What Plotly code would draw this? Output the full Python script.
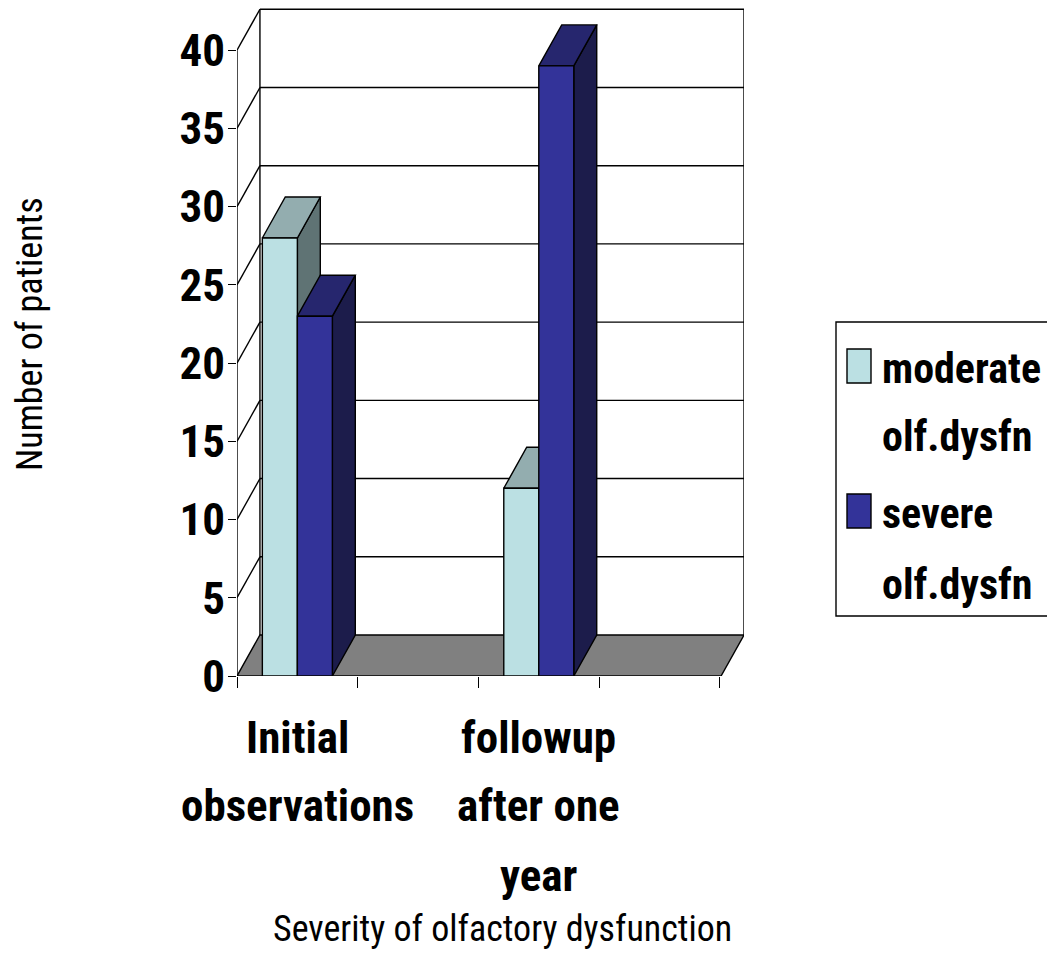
import plotly.graph_objects as go

# Number of patients by olfactory dysfunction severity
categories = [["Initial", "observations"], ["followup", "after one", "year"]]
series_names = [["moderate", "olf.dysfn"], ["severe", "olf.dysfn"]]
moderate = [28, 12]
severe = [23, 39]
y_ticks = [0, 5, 10, 15, 20, 25, 30, 35, 40]

# styling
FACE = {"moderate": ("#BBE0E3", "#93ADAF", "#5F7374"),
        "severe": ("#333399", "#26266E", "#1C1C4B")}
FAMILY = "Roboto Condensed, Liberation Sans Narrow, Arial Narrow, sans-serif"
BOLD = dict(family=FAMILY, size=45, color="black", weight="bold")
LEG = dict(family=FAMILY, size=42, color="black", weight="bold")
REG = dict(family=FAMILY, size=36, color="black")

W, H = 1047, 966
L, R, T, B = 237, 303, 8, 290
X_RANGE = [0, 4.2]
Y_RANGE = [0, 42.7]
DX, DY = 0.19, 2.62          # depth offset of the 3-D box
CAT_X = [0.5, 2.5]           # group centres on the numeric x axis
BW = 0.29                    # bar width
YMAX = 40

fig = go.Figure()


def poly(xs, ys, fill, lw=1.4):
    fig.add_trace(go.Scatter(
        x=list(xs) + [xs[0]], y=list(ys) + [ys[0]], mode="lines",
        fill="toself", fillcolor=fill, line=dict(color="black", width=lw),
        hoverinfo="skip", showlegend=False, cliponaxis=False))


def lines(segs, lw=1.4):
    xs, ys = [], []
    for (x0, y0), (x1, y1) in segs:
        xs += [x0, x1, None]
        ys += [y0, y1, None]
    fig.add_trace(go.Scatter(x=xs, y=ys, mode="lines",
                             line=dict(color="black", width=lw),
                             hoverinfo="skip", showlegend=False, cliponaxis=False))


x_end = X_RANGE[1] - DX

# back wall gridlines, wall edges and left-wall diagonals
segs = []
for v in y_ticks[1:]:
    segs.append(((DX, v + DY), (x_end + DX, v + DY)))
    segs.append(((0, v), (DX, v + DY)))
segs.append(((DX, DY), (DX, YMAX + DY)))
segs.append(((x_end + DX, DY), (x_end + DX, YMAX + DY)))
segs.append(((0, 0), (0, YMAX)))
lines(segs)

# floor
poly([0, x_end, x_end + DX, DX], [0, 0, DY, DY], "#808080")

# 3-D columns: side, top, front for each bar, left to right
for i, cx in enumerate(CAT_X):
    for name, vals, x0 in (("moderate", moderate, cx - BW), ("severe", severe, cx)):
        v = vals[i]
        x1 = x0 + BW
        front, top, side = FACE[name]
        poly([x1, x1 + DX, x1 + DX, x1], [0, DY, v + DY, v], side)
        poly([x0, x1, x1 + DX, x0 + DX], [v, v, v + DY, v + DY], top)
        poly([x0, x1, x1, x0], [0, 0, v, v], front)

pw, ph = W - L - R, H - T - B


def px(xp):
    return (xp - L) / pw


def py(yp):
    return (H - B - yp) / ph


ann = []
# category labels, one line each
line_centres = [737, 805, 875]
for cx, lab in zip(CAT_X, categories):
    for k, txt in enumerate(lab):
        ann.append(dict(x=cx, xref="x", y=py(line_centres[k]), yref="paper",
                        text=txt, showarrow=False, font=BOLD,
                        xanchor="center", yanchor="middle"))

# axis titles
ann.append(dict(x=px(502), y=py(929), xref="paper", yref="paper",
                text="Severity of olfactory dysfunction", showarrow=False,
                font=REG, xanchor="center", yanchor="middle"))
ann.append(dict(x=px(30), y=py(334), xref="paper", yref="paper",
                text="Number of patients", showarrow=False, textangle=-90,
                font=REG, xanchor="center", yanchor="middle"))

# legend
shapes = [dict(type="rect", xref="paper", yref="paper",
               x0=px(836), x1=px(1070), y0=py(616), y1=py(322),
               line=dict(color="black", width=1.4), fillcolor="white")]
legend_lines = [[368, 436], [513, 584]]
swatch_bottom = [383, 528]
for (name_lines, key, ys, sb) in zip(series_names, ["moderate", "severe"],
                                     legend_lines, swatch_bottom):
    shapes.append(dict(type="rect", xref="paper", yref="paper",
                       x0=px(847), x1=px(871), y0=py(sb), y1=py(sb - 34),
                       line=dict(color="black", width=1.4),
                       fillcolor=FACE[key][0]))
    for txt, yc in zip(name_lines, ys):
        ann.append(dict(x=px(880), y=py(yc), xref="paper", yref="paper",
                        text=txt, showarrow=False, font=LEG,
                        xanchor="left", yanchor="middle"))

fig.update_layout(
    width=W, height=H,
    margin=dict(l=L, r=R, t=T, b=B, pad=0),
    paper_bgcolor="white", plot_bgcolor="white",
    showlegend=False,
    annotations=ann, shapes=shapes,
    xaxis=dict(range=X_RANGE, tickvals=[0, 1, 2, 3, 4], showticklabels=False,
               ticks="outside", ticklen=11, tickwidth=1.4, tickcolor="black",
               showgrid=False, zeroline=False, showline=False, fixedrange=True),
    yaxis=dict(range=Y_RANGE, tickvals=y_ticks, ticks="outside", ticklen=8,
               tickwidth=1.4, tickcolor="black", tickfont=BOLD,
               ticklabelstandoff=-6,
               showgrid=False, zeroline=False, showline=False, fixedrange=True),
)

fig.write_html("out.html")
